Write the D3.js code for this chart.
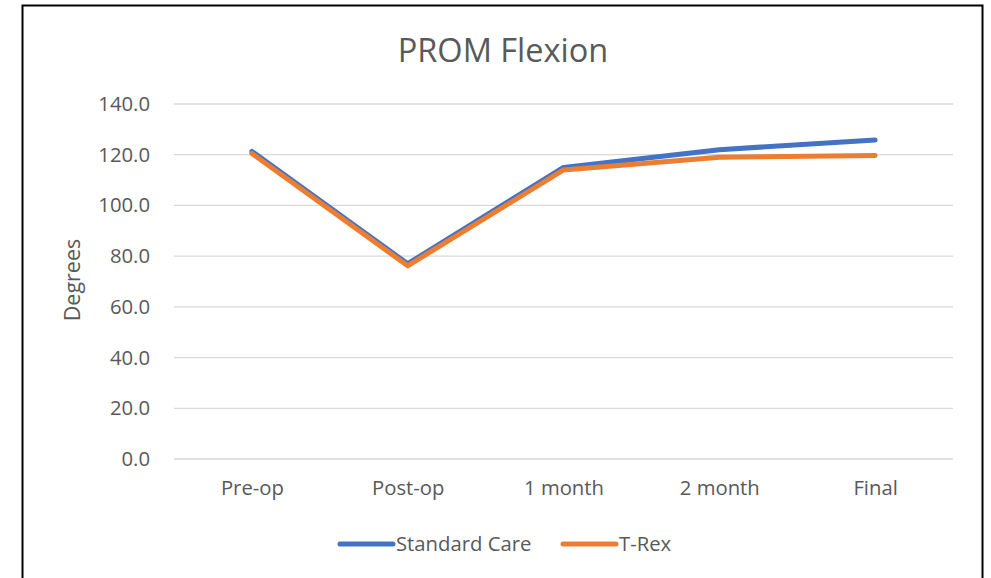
<!DOCTYPE html>
<html>
<head>
<meta charset="utf-8">
<script src="https://cdn.jsdelivr.net/npm/d3@7"></script>
<style>
  body { margin: 0; background: #fff; }
  text { font-family: "Open Sans", "Liberation Sans", sans-serif; fill: #595959; }
</style>
</head>
<body>
<div id="chart"></div>
<script>
// PROM Flexion line chart

const categories = ["Pre-op", "Post-op", "1 month", "2 month", "Final"];
const standardCare = [121.3, 77.0, 115.0, 122.0, 125.8];
const tRex = [120.5, 76.2, 114.0, 119.0, 119.7];
const yTicks = [0, 20, 40, 60, 80, 100, 120, 140];

const seriesNames = ["Standard Care", "T-Rex"];
const colors = {"Standard Care": "#4472c4", "T-Rex": "#ed7d31"};

const W = 991, H = 578;
const margin = {top: 104, right: 38, bottom: 119, left: 174};
const width = W - margin.left - margin.right;
const height = H - margin.top - margin.bottom;

const svg = d3.select("#chart").append("svg")
    .attr("width", W)
    .attr("height", H);

// chart border
svg.append("rect")
    .attr("x", 22.5).attr("y", 5.5)
    .attr("width", 960).attr("height", 600)
    .attr("fill", "none")
    .attr("stroke", "#000")
    .attr("stroke-width", 2);

const g = svg.append("g")
    .attr("transform", `translate(${margin.left},${margin.top})`);

const x = d3.scalePoint()
    .domain(categories)
    .range([0, width])
    .padding(0.5);

const y = d3.scaleLinear()
    .domain([0, 140])
    .range([height, 0]);

// gridlines
g.selectAll(".grid")
    .data(yTicks)
    .enter().append("line")
    .attr("class", "grid")
    .attr("x1", 0).attr("x2", width)
    .attr("y1", d => y(d)).attr("y2", d => y(d))
    .attr("stroke", "#d9d9d9")
    .attr("stroke-width", 1.3);

// y axis labels
const yAxis = g.append("g")
    .call(d3.axisLeft(y).tickValues(yTicks).tickFormat(d3.format(".1f")).tickSize(0).tickPadding(24));
yAxis.select(".domain").remove();
yAxis.selectAll("text")
    .style("font-size", "20.3px")
    .attr("fill", "#595959");

// x axis labels
const xAxis = g.append("g")
    .attr("transform", `translate(0,${height})`)
    .call(d3.axisBottom(x).tickSize(0).tickPadding(22));
xAxis.select(".domain").remove();
xAxis.selectAll("text")
    .style("font-size", "20.3px")
    .attr("fill", "#595959");

// lines
const line = d3.line()
    .x((d, i) => x(categories[i]))
    .y(d => y(d));

const series = [
    {name: "Standard Care", values: standardCare},
    {name: "T-Rex", values: tRex}
];

g.selectAll(".series")
    .data(series)
    .enter().append("path")
    .attr("class", "series")
    .attr("d", d => line(d.values))
    .attr("fill", "none")
    .attr("stroke", d => colors[d.name])
    .attr("stroke-width", 5)
    .attr("stroke-linejoin", "round")
    .attr("stroke-linecap", "round");

// title
svg.append("text")
    .attr("x", 503).attr("y", 62)
    .attr("text-anchor", "middle")
    .style("font-size", "32.5px")
    .text("PROM Flexion");

// y axis title
svg.append("text")
    .attr("transform", "translate(80,280) rotate(-90)")
    .attr("text-anchor", "middle")
    .style("font-size", "21.5px")
    .text("Degrees");

// legend
const legendX = [340, 563];
const legend = svg.selectAll(".legend")
    .data(seriesNames)
    .enter().append("g")
    .attr("class", "legend")
    .attr("transform", (d, i) => `translate(${legendX[i]},544)`);

legend.append("line")
    .attr("x1", 0).attr("x2", 53)
    .attr("y1", 0).attr("y2", 0)
    .attr("stroke", d => colors[d])
    .attr("stroke-width", 5)
    .attr("stroke-linecap", "round");

legend.append("text")
    .attr("x", 56).attr("y", 7)
    .style("font-size", "20.3px")
    .text(d => d);
</script>
</body>
</html>
